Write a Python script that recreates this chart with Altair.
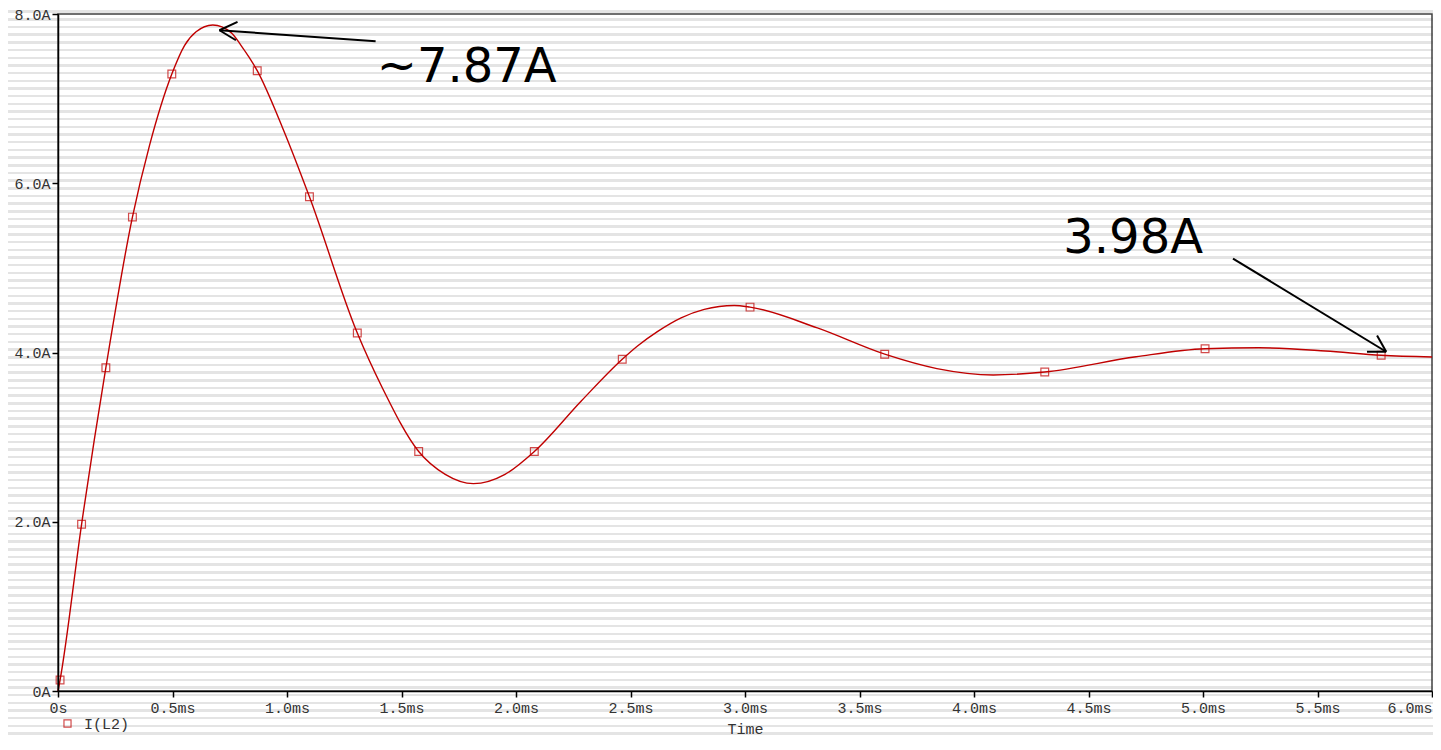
import altair as alt
import pandas as pd

# ---- data ----
curve_t = [0, 0.009, 0.103, 0.209, 0.325, 0.400, 0.497, 0.553, 0.603, 0.676, 0.756, 0.799,
           0.870, 0.980, 1.098, 1.307, 1.415, 1.575, 1.691, 1.814, 1.952, 2.080, 2.286, 2.464,
           2.532, 2.619, 2.721, 2.822, 2.953, 3.022, 3.316, 3.610, 3.838, 4.084, 4.309, 4.708,
           5.009, 5.244, 5.535, 5.778, 6.0]
curve_i = [0, 0.13, 1.97, 3.82, 5.60, 6.45, 7.29, 7.63, 7.79, 7.87, 7.78, 7.63,
           7.33, 6.66, 5.84, 4.23, 3.59, 2.83, 2.56, 2.45, 2.56, 2.83, 3.43, 3.92,
           4.08, 4.25, 4.41, 4.51, 4.556, 4.536, 4.29, 3.98, 3.81, 3.735, 3.77, 3.95,
           4.045, 4.056, 4.018, 3.967, 3.947]

marker_t = [0.009, 0.103, 0.209, 0.325, 0.497, 0.870, 1.098, 1.307, 1.575, 2.080, 2.464,
            3.022, 3.610, 4.309, 5.009, 5.778]
marker_i = [0.13, 1.97, 3.82, 5.60, 7.29, 7.33, 5.84, 4.23, 2.83, 2.83, 3.92,
            4.536, 3.98, 3.77, 4.045, 3.967]

series_name = "I(L2)"

x_ticks = [0, 0.5, 1.0, 1.5, 2.0, 2.5, 3.0, 3.5, 4.0, 4.5, 5.0, 5.5, 6.0]
y_ticks = [0, 2, 4, 6, 8]

# annotation arrows (segments: shaft + two barbs), in data units
arrow_x1 = [1.387, 0.705, 0.705, 5.131, 5.800, 5.800]
arrow_y1 = [7.678, 7.808, 7.808, 5.110, 4.009, 4.009]
arrow_x2 = [0.705, 0.784, 0.777, 5.800, 5.760, 5.716]
arrow_y2 = [7.808, 7.906, 7.690, 4.009, 4.202, 4.009]

note_text = ["~7.87A", "3.98A"]
note_t = [1.392, 4.390]
note_i = [7.199, 5.172]

# ---- layout / style ----
W, H = 1374, 677
PAD_L, PAD_T, PAD_R, PAD_B = 50, 6, 1, 50
MONO = "Liberation Mono"
RED = "#c00000"

curve_df = pd.DataFrame({"t": curve_t, "i": curve_i})
marker_df = pd.DataFrame({"t": marker_t, "i": marker_i, "s": [series_name] * len(marker_t)})
arrow_df = pd.DataFrame({"x1": arrow_x1, "y1": arrow_y1, "x2": arrow_x2, "y2": arrow_y2})
note_df = pd.DataFrame({"txt": note_text, "t": note_t, "i": note_i})

xscale = alt.Scale(domain=[0, 6], nice=False, zero=False)
yscale = alt.Scale(domain=[0, 8], nice=False, zero=False)

# striped background (decoration) via a gradient
rect_h = H + PAD_T + PAD_B
period = 7.68
half = 1.25
stripe_col = "#e4e4e4"
stops = [alt.GradientStop(color="white", offset=0)]
k = 1
while True:
    c = -4 + period * k
    if c + half >= rect_h:
        break
    a = (c - half) / rect_h
    b = (c + half) / rect_h
    stops += [
        alt.GradientStop(color="white", offset=a),
        alt.GradientStop(color=stripe_col, offset=a),
        alt.GradientStop(color=stripe_col, offset=b),
        alt.GradientStop(color="white", offset=b),
    ]
    k += 1
stops.append(alt.GradientStop(color="white", offset=1))

one_row = pd.DataFrame({"a": [0]})

stripes = alt.Chart(one_row).mark_rect(
    fill=alt.LinearGradient(gradient="linear", stops=stops, x1=0, x2=0, y1=0, y2=1),
    clip=False,
).encode(
    x=alt.value(-PAD_L), x2=alt.value(W + PAD_R),
    y=alt.value(-PAD_T), y2=alt.value(H + PAD_B),
)

frame = alt.Chart(one_row).mark_rect(
    fillOpacity=0, stroke="#404040", strokeWidth=1.5
).encode(
    x=alt.value(0), x2=alt.value(W), y=alt.value(0), y2=alt.value(H),
)

x_axis = alt.Axis(
    values=x_ticks,
    labelExpr="datum.value == 0 ? '0s' : format(datum.value, '.1f') + 'ms'",
    labelAlign={"condition": {"test": "datum.value >= 6", "value": "right"}, "value": "center"},
    grid=False, tickSize=6, labelPadding=3, zindex=1,
    title="Time", titleY=37, titleBaseline="middle",
)
y_axis = alt.Axis(
    values=y_ticks,
    labelExpr="datum.value == 0 ? '0A' : format(datum.value, '.1f') + 'A'",
    grid=False, tickSize=6, labelPadding=2, title=None, zindex=1,
)

line = alt.Chart(curve_df).mark_line(
    color=RED, strokeWidth=1.4, interpolate="monotone"
).encode(
    x=alt.X("t:Q", scale=xscale, axis=x_axis),
    y=alt.Y("i:Q", scale=yscale, axis=y_axis),
)

markers = alt.Chart(marker_df).mark_point(
    shape="square", filled=False, size=60, strokeWidth=1.2
).encode(
    x=alt.X("t:Q", scale=xscale),
    y=alt.Y("i:Q", scale=yscale),
    color=alt.Color(
        "s:N",
        scale=alt.Scale(domain=[series_name], range=[RED]),
        legend=alt.Legend(
            title=None, orient="none", legendX=2, legendY=702,
            symbolType="square", symbolSize=50, symbolStrokeWidth=1.2,
            labelFont=MONO, labelFontSize=15, labelColor="#333333",
            labelOffset=9, padding=0,
        ),
    ),
)

arrows = alt.Chart(arrow_df).mark_rule(color="black", strokeWidth=2).encode(
    x=alt.X("x1:Q", scale=xscale), y=alt.Y("y1:Q", scale=yscale),
    x2="x2:Q", y2="y2:Q",
)

notes = alt.Chart(note_df).mark_text(
    font="DejaVu Sans", fontSize=48, color="black", align="left", baseline="alphabetic"
).encode(
    x=alt.X("t:Q", scale=xscale), y=alt.Y("i:Q", scale=yscale), text="txt:N",
)

chart = alt.layer(stripes, frame, line, markers, arrows, notes).properties(
    width=W, height=H,
    autosize=alt.AutoSizeParams(type="none"),
    padding={"left": PAD_L, "top": PAD_T, "right": PAD_R, "bottom": PAD_B},
    background="white",
).configure_view(
    stroke=None
).configure_axis(
    domainColor="black", domainWidth=1.5, tickColor="black", tickWidth=1.5,
    labelFont=MONO, labelFontSize=15, labelColor="#333333",
    titleFont=MONO, titleFontSize=15, titleFontWeight="normal", titleColor="#333333",
)

chart.save("out.html", embed_options={"renderer": "svg", "actions": False})
